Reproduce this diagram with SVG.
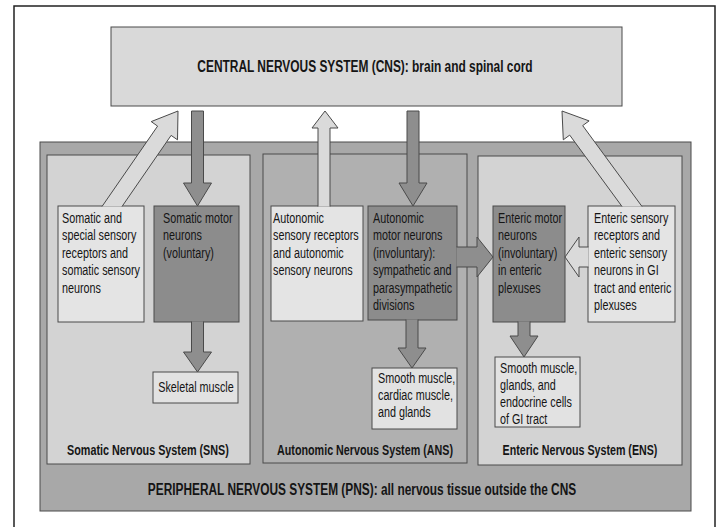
<svg xmlns="http://www.w3.org/2000/svg" width="719" height="527" viewBox="0 0 719 527">
<style>
.bx{stroke:#4a4a4a;stroke-width:1}
.cns{fill:#d9d9d9}
.pns{fill:#a8a8a8}
.light{fill:#d3d3d3}
.mid{fill:#b0b0b0}
.sens{fill:#e4e4e4}
.mot{fill:#8c8c8c}
.tgt{fill:#e2e2e2}
.am{fill:#8e8e8e;stroke:#4a4a4a;stroke-width:1;stroke-linejoin:miter}
.as{fill:#dadada;stroke:#4a4a4a;stroke-width:1;stroke-linejoin:miter}
text{font-family:"Liberation Sans",Arial,Helvetica,sans-serif;fill:#151515}
.t{font-size:15px}
.b{font-size:15.5px;font-weight:bold}
.h{font-size:17px;font-weight:bold}
</style>
<rect x="0" y="0" width="719" height="527" fill="#ffffff"/>
<rect x="14" y="6" width="701" height="540" fill="none" stroke="#222" stroke-width="1.5"/>

<g id="cns">
<rect class="bx cns" x="111" y="27" width="511" height="79"/>
<g transform="matrix(0.7016 0 0 1 108.9 0)">
<text class="h" x="365" y="72" text-anchor="middle">CENTRAL NERVOUS SYSTEM (CNS): brain and spinal cord</text>
</g>
</g>

<g id="pns">
<rect class="bx pns" x="40" y="142" width="651" height="369"/>
<g transform="matrix(0.6987 0 0 1 109.1 0)">
<text class="h" x="362" y="495" text-anchor="middle">PERIPHERAL NERVOUS SYSTEM (PNS): all nervous tissue outside the CNS</text>
</g>
</g>

<g id="sns">
<rect class="bx light" x="47" y="155" width="203" height="309"/>
<g transform="matrix(0.6965 0 0 1 44.9 0)">
<text class="b" x="148" y="455" text-anchor="middle">Somatic Nervous System (SNS)</text>
</g>
</g>
<g id="ans">
<rect class="bx mid" x="263" y="154" width="204" height="309"/>
<g transform="matrix(0.6927 0 0 1 112.2 0)">
<text class="b" x="365" y="455" text-anchor="middle">Autonomic Nervous System (ANS)</text>
</g>
</g>
<g id="ens">
<rect class="bx light" x="478" y="156" width="204" height="309"/>
<g transform="matrix(0.6895 0 0 1 180.1 0)">
<text class="b" x="580" y="455" text-anchor="middle">Enteric Nervous System (ENS)</text>
</g>
</g>

<g id="somatic-sensory">
<rect class="bx sens" x="58" y="206" width="86" height="116"/>
<g transform="matrix(0.72 0 0 1 17.36 0)">
<text class="t" x="62" y="223">Somatic and</text>
<text class="t" x="62" y="240.5">special sensory</text>
<text class="t" x="62" y="258">receptors and</text>
<text class="t" x="62" y="275.5">somatic sensory</text>
<text class="t" x="62" y="293">neurons</text>
</g>
</g>
<g id="somatic-motor">
<rect class="bx mot" x="154" y="206" width="85" height="116"/>
<g transform="matrix(0.72 0 0 1 45.64 0)">
<text class="t" x="163" y="223">Somatic motor</text>
<text class="t" x="163" y="240.5">neurons</text>
<text class="t" x="163" y="258">(voluntary)</text>
</g>
</g>
<g id="skeletal-muscle">
<rect class="bx tgt" x="153" y="372" width="85" height="31"/>
<g transform="matrix(0.72 0 0 1 54.88 0)">
<text class="t" x="196" y="392" text-anchor="middle">Skeletal muscle</text>
</g>
</g>

<g id="autonomic-sensory">
<rect class="bx sens" x="271" y="206" width="92" height="115"/>
<g transform="matrix(0.72 0 0 1 76.44 0)">
<text class="t" x="273" y="223">Autonomic</text>
<text class="t" x="273" y="240.5">sensory receptors</text>
<text class="t" x="273" y="258">and autonomic</text>
<text class="t" x="273" y="275.5">sensory neurons</text>
</g>
</g>
<g id="autonomic-motor">
<rect class="bx mot" x="368" y="206" width="89" height="114"/>
<g transform="matrix(0.72 0 0 1 104.44 0)">
<text class="t" x="373" y="223">Autonomic</text>
<text class="t" x="373" y="240.5">motor neurons</text>
<text class="t" x="373" y="258">(involuntary):</text>
<text class="t" x="373" y="275.5">sympathetic and</text>
<text class="t" x="373" y="293">parasympathetic</text>
<text class="t" x="373" y="310.5">divisions</text>
</g>
</g>
<g id="ans-effectors">
<rect class="bx tgt" x="372" y="368" width="85" height="61"/>
<g transform="matrix(0.72 0 0 1 105.84 0)">
<text class="t" x="378" y="383">Smooth muscle,</text>
<text class="t" x="378" y="400">cardiac muscle,</text>
<text class="t" x="378" y="417">and glands</text>
</g>
</g>

<g id="enteric-motor">
<rect class="bx mot" x="493" y="206" width="72" height="116"/>
<g transform="matrix(0.72 0 0 1 139.44 0)">
<text class="t" x="498" y="223">Enteric motor</text>
<text class="t" x="498" y="240.5">neurons</text>
<text class="t" x="498" y="258">(involuntary)</text>
<text class="t" x="498" y="275.5">in enteric</text>
<text class="t" x="498" y="293">plexuses</text>
</g>
</g>
<g id="enteric-sensory">
<rect class="bx sens" x="588" y="206" width="87" height="116"/>
<g transform="matrix(0.72 0 0 1 166.32 0)">
<text class="t" x="594" y="223">Enteric sensory</text>
<text class="t" x="594" y="240.5">receptors and</text>
<text class="t" x="594" y="258">enteric sensory</text>
<text class="t" x="594" y="275.5">neurons in GI</text>
<text class="t" x="594" y="293">tract and enteric</text>
<text class="t" x="594" y="310.5">plexuses</text>
</g>
</g>
<g id="ens-effectors">
<rect class="bx tgt" x="495" y="357" width="85" height="70"/>
<g transform="matrix(0.72 0 0 1 140 0)">
<text class="t" x="500" y="373">Smooth muscle,</text>
<text class="t" x="500" y="390">glands, and</text>
<text class="t" x="500" y="407">endocrine cells</text>
<text class="t" x="500" y="424">of GI tract</text>
</g>
</g>

<g id="connectors">
<polygon class="am" points="191.5,111 203.5,111 203.5,183 211.5,183 197.5,206 183.5,183 191.5,183"/>
<path class="am" d="M191.5,321.5 L191.5,352 L183.5,352 L197.5,372 L211.5,352 L203.5,352 L203.5,321.5"/>
<polygon class="am" points="407,111 419,111 419,183 427,183 413,206 399,183 407,183"/>
<path class="am" d="M406,319.5 L406,348 L398,348 L412,368 L426,348 L418,348 L418,319.5"/>
<path class="am" d="M518,321.5 L518,336 L510,336 L524,357 L538,336 L530,336 L530,321.5"/>
<path class="am" d="M456.5,247 L477,247 L477,237 L493,257 L477,277 L477,267 L456.5,267"/>
<path class="as" d="M318,206.5 L318,128 L312,128 L325,111 L338,128 L330,128 L330,206.5"/>
<path class="as" d="M102,206.5 L157.6,126.1 L151.2,121.6 L178,111 L177.5,139.8 L171.1,135.4 L122,206.5"/>
<path class="as" d="M622,206.5 L569.7,135.1 L563.3,139.8 L562,111 L589.1,120.9 L582.7,125.6 L642,206.5"/>
<path class="as" d="M588.5,247 L579,247 L579,237 L565,257 L579,277 L579,267 L588.5,267"/>
</g>
</svg>
